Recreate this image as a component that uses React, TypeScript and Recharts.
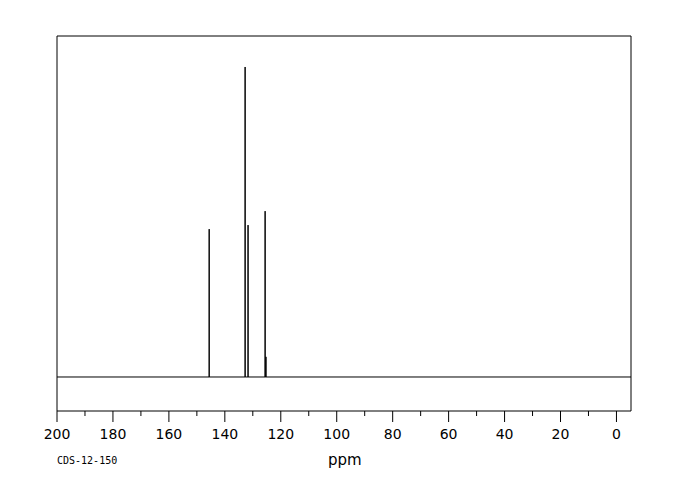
import { LineChart, Line, XAxis, YAxis, ReferenceArea } from 'recharts';

// 13C spectrum, peaks (tallest = 100)
const peakShifts = [145.6, 132.75, 131.7, 125.6, 125.3];
const peakHeights = [47.7, 100, 49.0, 53.5, 6.5];
const xTicks = [200, 190, 180, 170, 160, 150, 140, 130, 120, 110, 100, 90, 80, 70, 60, 50, 40, 30, 20, 10, 0];
const sampleCode = 'CDS-12-150';

const X_MIN = -5.2;
const X_MAX = 200;
const Y_MIN = -10.97;
const Y_MAX = 110;

// stick spectrum: baseline with a vertical spike at every peak
const spectrum: { ppm: number; i: number }[] = [{ ppm: X_MAX, i: 0 }];
peakShifts.forEach((s, k) => {
  spectrum.push({ ppm: s, i: 0 }, { ppm: s, i: peakHeights[k] }, { ppm: s, i: 0 });
});
spectrum.push({ ppm: X_MIN, i: 0 });

function Tick(props: any) {
  const { x, y, payload } = props;
  const major = payload.value % 20 === 0;
  return (
    <g>
      <line x1={x} x2={x} y1={y} y2={y + (major ? 11 : 5)} stroke="#000" strokeWidth={1} />
      {major && (
        <text x={x} y={y + 28} textAnchor="middle" fontSize={14} fill="#000" fontFamily="DejaVu Sans">
          {payload.value}
        </text>
      )}
    </g>
  );
}

export default function App() {
  return (
    <div style={{ position: 'absolute', left: 0, top: 0, width: 680, height: 500, background: '#fff' }}>
      <LineChart
        width={680}
        height={500}
        data={spectrum}
        margin={{ top: 36, right: 49, left: 57, bottom: 0 }}
      >
        <XAxis
          dataKey="ppm"
          type="number"
          domain={[X_MIN, X_MAX]}
          reversed
          allowDataOverflow
          ticks={xTicks}
          interval={0}
          tickLine={false}
          tickSize={0}
          tickMargin={0}
          axisLine={false}
          tick={<Tick />}
          height={89}
        />
        <YAxis hide type="number" domain={[Y_MIN, Y_MAX]} allowDataOverflow />
        <ReferenceArea
          x1={X_MAX}
          x2={X_MIN}
          y1={Y_MIN}
          y2={Y_MAX}
          fill="none"
          stroke="#000"
          strokeWidth={1}
          fillOpacity={0}
        />
        <Line
          dataKey="i"
          type="linear"
          stroke="#000"
          strokeWidth={1}
          dot={false}
          isAnimationActive={false}
        />
      </LineChart>
      <div
        style={{
          position: 'absolute',
          left: 328,
          top: 451,
          fontFamily: 'DejaVu Sans',
          fontSize: 15,
          color: '#000',
        }}
      >
        ppm
      </div>
      <div
        style={{
          position: 'absolute',
          left: 57,
          top: 455,
          fontFamily: 'DejaVu Sans Mono',
          fontSize: 10,
          color: '#000',
        }}
      >
        {sampleCode}
      </div>
    </div>
  );
}
